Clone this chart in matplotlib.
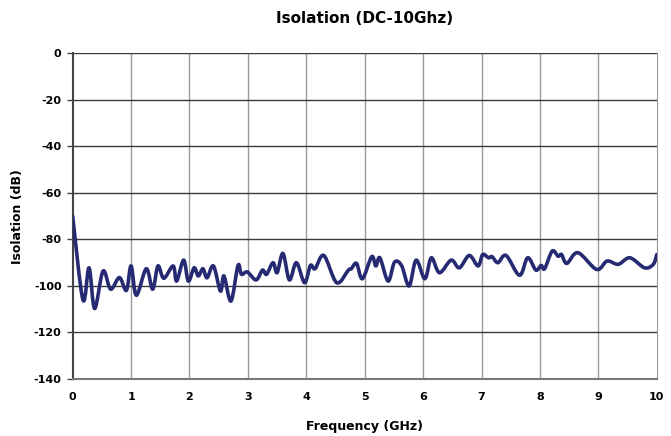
import matplotlib
matplotlib.use("Agg")
import matplotlib.pyplot as plt
from matplotlib.path import Path
from matplotlib.patches import PathPatch
import numpy as np

# values
freq_ghz = [0.00, 0.176, 0.28, 0.376, 0.52, 0.65, 0.80, 0.92, 1.00, 1.09,
            1.26, 1.37, 1.46, 1.56, 1.72, 1.78, 1.90, 1.98, 2.08, 2.15,
            2.23, 2.30, 2.41, 2.53, 2.59, 2.71, 2.83, 2.89, 2.99, 3.14,
            3.25, 3.32, 3.43, 3.50, 3.60, 3.71, 3.83, 3.97, 4.07, 4.15,
            4.30, 4.52, 4.72, 4.77, 4.86, 4.96, 5.12, 5.19, 5.26, 5.40,
            5.51, 5.63, 5.76, 5.88, 6.03, 6.14, 6.28, 6.48, 6.62, 6.79,
            6.94, 7.02, 7.12, 7.18, 7.28, 7.42, 7.65, 7.79, 7.93, 8.02,
            8.08, 8.21, 8.31, 8.37, 8.46, 8.65, 8.97, 9.15, 9.34, 9.54,
            9.79, 9.94, 10.0]
isolation_db = [-70.0, -106.0, -92.2, -109.7, -93.6, -101.4, -96.4, -101.9, -91.4, -104.0,
                -92.6, -101.4, -91.4, -96.7, -91.4, -97.9, -88.9, -97.9, -92.2, -95.7,
                -92.6, -96.5, -91.4, -102.2, -95.7, -106.5, -91.2, -95.0, -94.0, -97.4,
                -93.2, -95.0, -90.0, -94.3, -86.0, -97.4, -90.0, -98.6, -91.2, -92.6,
                -86.9, -98.6, -93.2, -92.6, -90.3, -96.9, -87.4, -91.4, -87.9, -97.9,
                -89.8, -91.2, -100.0, -88.9, -96.9, -87.9, -94.3, -88.9, -92.2, -86.9,
                -91.4, -86.5, -87.9, -87.4, -90.0, -86.9, -95.4, -87.9, -93.2, -91.2,
                -92.6, -85.0, -87.2, -86.5, -90.3, -85.7, -92.9, -89.3, -90.7, -87.9,
                -92.2, -90.7, -86.5]
x_ticks = list(range(0, 11))
y_ticks = list(range(-140, 1, 20))


def smooth_path(x, y, tension=1.0 / 6):
    # Excel-style smoothed line: cubic Bezier segments (Catmull-Rom)
    x = np.asarray(x)
    y = np.asarray(y)
    n = len(x)
    verts = [(x[0], y[0])]
    codes = [Path.MOVETO]
    for i in range(n - 1):
        p0 = i - 1 if i > 0 else i
        p3 = i + 2 if i + 2 < n else i + 1
        c1 = (x[i] + (x[i + 1] - x[p0]) * tension, y[i] + (y[i + 1] - y[p0]) * tension)
        c2 = (x[i + 1] - (x[p3] - x[i]) * tension, y[i + 1] - (y[p3] - y[i]) * tension)
        verts += [c1, c2, (x[i + 1], y[i + 1])]
        codes += [Path.CURVE4] * 3
    return Path(verts, codes)


fig = plt.figure(figsize=(6.71, 4.36), dpi=100)
ax = fig.add_axes([0.1083, 0.1307, 0.8705, 0.7471])

ax.add_patch(PathPatch(smooth_path(freq_ghz, isolation_db), facecolor="none",
                       edgecolor="#262a72", lw=2.6, capstyle="round", joinstyle="round", zorder=3))

ax.set_xlim(0, 10)
ax.set_ylim(-140, 0)
ax.set_xticks(x_ticks)
ax.set_yticks(y_ticks)
ax.set_xticklabels([str(t) for t in x_ticks], fontsize=8, fontweight="bold")
ax.set_yticklabels([str(t) for t in y_ticks], fontsize=8, fontweight="bold")
ax.tick_params(axis="x", length=0, pad=9)
ax.tick_params(axis="y", length=4, width=1, color="#444444", pad=4)

for t in x_ticks[1:-1]:
    ax.axvline(t, color="#9a9a9a", lw=1, zorder=1)
for t in y_ticks[1:]:
    ax.axhline(t, color="#3a3a3a", lw=1, zorder=1)

ax.spines["left"].set_color("#444444")
ax.spines["left"].set_linewidth(1.5)
ax.spines["bottom"].set_color("#777777")
ax.spines["bottom"].set_linewidth(1.5)
ax.spines["right"].set_color("#999999")
ax.spines["top"].set_visible(False)

ax.set_xlabel("Frequency (GHz)", fontsize=9, fontweight="bold", labelpad=13)
ax.set_ylabel("Isolation (dB)", fontsize=9, fontweight="bold", labelpad=7)
ax.set_title("Isolation (DC-10Ghz)", fontsize=11, fontweight="bold", pad=22)

fig.savefig("out.png", dpi=100)
